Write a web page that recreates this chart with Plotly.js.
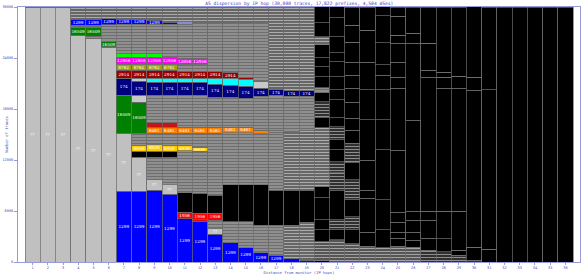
<!DOCTYPE html>
<html><head><meta charset="utf-8">
<script src="https://cdn.plot.ly/plotly-3.0.1.min.js"></script>
<style>html,body{margin:0;padding:0;background:#fff;}#chart{width:581px;height:275px;}</style>
</head><body><div id="chart"></div>
<script>
// ---- categories / ticks ----
const hops = [1,2,3,4,5,6,7,8,9,10,11,12,13,14,15,16,17,18,19,20,21,22,23,24,25,26,27,28,29,30,31,32,33,34,35,36];
const hopLabels = ['1','2','3','4','5','6','7','8','9','10','11','12','13','14','15','16','17','18','19','20','21','22','23','24','25','26','27','28','29','30','31','32','33','34','35','36'];
const yTickVals = [0,6000,12000,18000,24000,30000];
const yTickText = ['0','6000','12000','18000','24000','30000'];

// ---- series (traces per hop), stacked bottom -> top ----
const as1299Low = [0,0,0,0,0,0,8350,8350,8470,8000,5060,4710,3290,2240,1650,1060,820,470,235,120,0,0,0,0,0,0,0,0,0,0,0,0,0,0,0,0];
const unknownAS = [30000,30000,30000,26700,26350,25180,6820,4000,1180,1060,0,0,700,0,0,0,0,0,0,0,0,0,0,0,0,0,0,0,0,0,0,0,0,0,0,0];
const otherLow  = [0,0,0,0,0,0,0,0,2700,3290,0,235,940,2470,3060,3290,3530,3880,4470,2240,2590,2120,1880,1650,1880,1760,1410,1180,820,235,0,0,0,0,0,0];
const as1956    = [0,0,0,0,0,0,0,0,0,0,820,820,820,0,0,0,0,0,0,0,0,0,0,0,0,0,0,0,0,0,0,0,0,0,0,0];
const blackLow  = [0,0,0,0,0,0,0,700,700,700,2240,2350,2120,4350,4350,4710,4120,4120,3760,1410,1180,1650,1650,2120,940,820,1410,1530,590,1530,1530,0,0,0,0,0];
const otherMid1 = [0,0,0,0,0,0,0,0,0,0,4940,4940,7290,6120,6120,6000,6820,6820,7060,1180,1180,1530,4000,3530,700,940,2120,0,0,0,0,0,0,0,0,0];
const as6939    = [0,0,0,0,0,0,0,700,820,700,700,470,0,0,0,0,0,0,0,2590,3410,2000,940,0,1180,1410,1060,3290,4590,0,0,0,0,0,0,0];
const otherMid2 = [0,0,0,0,235,120,0,1410,1290,1410,1410,1650,0,0,0,0,0,0,0,1290,2120,2350,3530,5880,1180,1060,0,0,0,0,0,0,0,0,0,0];
const as6461    = [0,0,0,0,0,0,0,0,700,700,700,700,700,700,700,470,235,0,0,2820,1290,2000,4710,3530,7290,10710,15760,14470,14470,18470,18710,0,0,0,0,0];
const asRed     = [0,0,0,0,0,0,0,0,590,590,0,0,0,0,0,0,0,0,0,4120,1410,2350,3530,3530,7290,9060,820,1290,1410,1530,0,0,0,0,0,0];
const as16509   = [0,0,0,940,1060,590,4470,3650,0,0,0,0,0,0,0,0,0,0,0,1180,1180,1530,3290,1760,1290,1180,0,0,0,0,0,0,0,0,0,0];
const otherMid3 = [0,0,0,0,0,0,0,820,3180,3180,3760,3760,3530,3530,3410,4000,4120,4240,4000,1880,1530,1410,3760,1180,1760,0,3180,590,0,0,0,0,0,0,0,0];
const as174     = [0,0,0,0,0,0,2000,1650,1530,1530,1530,1530,1530,1410,1410,940,700,700,700,1060,1060,1880,0,2590,2240,0,0,0,0,0,0,0,0,0,0,0];
const asCyan    = [0,0,0,0,0,0,0,350,470,470,470,470,700,820,820,820,0,0,0,590,2120,1650,0,0,940,0,0,0,0,0,0,0,0,0,0,0];
const as2914    = [0,0,0,0,0,0,940,940,940,940,820,820,820,700,235,0,0,0,0,1290,1180,1530,0,0,0,0,0,0,0,0,0,0,0,0,0,0];
const as6762    = [0,0,0,0,0,0,700,700,700,700,820,820,0,0,0,0,0,0,0,1180,1530,1530,0,0,0,0,0,0,0,0,0,0,0,0,0,0];
const as12956   = [0,0,0,0,0,0,820,820,820,820,700,700,0,0,0,0,0,0,0,1060,1760,2350,0,0,0,0,0,0,0,0,0,0,0,0,0,0];
const asLime    = [0,0,0,0,0,0,470,470,470,0,0,0,0,0,0,0,0,0,0,1530,1060,0,0,0,0,0,0,0,0,0,0,0,0,0,0,0];
const otherUp   = [0,0,0,235,235,2000,3410,3410,3410,3880,4000,4240,5760,5880,6470,6940,7880,8000,8000,940,1880,2000,0,3180,2240,0,0,0,0,0,0,0,0,0,0,0];
const as1299Top = [0,0,0,700,700,700,590,590,470,235,350,0,0,0,0,0,0,0,0,1650,2240,0,0,0,0,0,0,0,0,0,0,0,0,0,0,0];
const otherTop  = [0,0,0,1420,1410,1410,1410,1410,1530,1760,1650,1760,1760,1760,1760,1760,1760,1760,1760,1880,1290,2120,2710,1060,1060,3060,4240,7650,8120,8240,9760,30000,30000,30000,30000,30000];

// ---- styling ----
const STYLES = {
  gray:  {bg:'#8f8f8f', fg:'#4a4a4a', shape:'-'},
  dark:  {bg:'#666666', fg:'#1e1e1e', shape:'-'},
  dim:   {bg:'#555555', fg:'#141414', shape:'-'},
  faint: {bg:'#303030', fg:'#000000', shape:'-'},
  light: {bg:'#c8c8c8', fg:'#c8c8c8', shape:''},
  black: {bg:'#000000', fg:'#000000', shape:''},
  red:   {bg:'#d01010', fg:'#d01010', shape:''},
  slate: {bg:'#8a8ad0', fg:'#8a8ad0', shape:''}
};
const DARK_ZONE = 20;
const layers = [
  {name:'1299', v:as1299Low, color:'#0000ff', lab:[7,17]},
  {name:'??', v:unknownAS, color:'#c0c0c0', lab:[1,10], extraLab:[13]},
  {name:'low', v:otherLow, filler:'gray', darkFill:'dim', over:{12:'red', 18:'dark', 19:'dark', 27:'faint', 28:'faint', 29:'faint', 30:'faint'}},
  {name:'1956', v:as1956, color:'#ff0000', lab:[11,13]},
  {name:'blk', v:blackLow, filler:'black', darkFill:'black'},
  {name:'mid1', v:otherMid1, filler:'gray', darkFill:'black', over:{18:'dark',19:'dark',21:'faint',22:'faint'}},
  {name:'6939', v:as6939, color:'#ffcc00', lab:[8,12]},
  {name:'mid2', v:otherMid2, filler:'gray', darkFill:'black', over:{21:'faint',22:'faint'}},
  {name:'6461', v:as6461, color:'#ff8000', lab:[9,15], over:{20:'dark',21:'faint'}},
  {name:'red', v:asRed, color:'#c81414', lab:null, over:{20:'dark',22:'faint'}},
  {name:'16509', v:as16509, color:'#008000', lab:[4,8]},
  {name:'mid3', v:otherMid3, filler:'gray', darkFill:'black', over:{8:'light',20:'faint',21:'faint'}},
  {name:'174', v:as174, color:'#000080', lab:[7,19]},
  {name:'cyan', v:asCyan, color:'#00ffff', lab:null, over:{8:'light',16:'light',20:'gray'}},
  {name:'2914', v:as2914, color:'#990000', lab:[7,14]},
  {name:'6762', v:as6762, color:'#a0a000', lab:[7,10], over:{11:'gray',12:'gray'}},
  {name:'12956', v:as12956, color:'#ff00ff', lab:[7,12]},
  {name:'lime', v:asLime, color:'#00ff00', lab:null},
  {name:'up', v:otherUp, filler:'gray', darkFill:'black', over:{17:'dark',18:'dark',19:'dark',20:'dark'}},
  {name:'1299t', v:as1299Top, color:'#0000ff', lab:[4,9], text:'1299', over:{11:'slate'}},
  {name:'top', v:otherTop, filler:'dark', darkFill:'black'}
];

const traces = layers.map(L => {
  const bg = [], fg = [], shape = [], text = [];
  hops.forEach((h, i) => {
    let key = null;
    if (L.over && L.over[h]) key = L.over[h];
    else if (L.filler) key = h >= DARK_ZONE ? L.darkFill : L.filler;
    else if (h >= DARK_ZONE) key = 'black';
    if (key) { const s = STYLES[key]; bg.push(s.bg); fg.push(s.fg); shape.push(s.shape); }
    else { bg.push(L.color); fg.push(L.color); shape.push(''); }
    let t = '';
    if (!key && L.lab && L.v[i] > 0 && h >= L.lab[0] && h <= L.lab[1]) t = L.text || L.name;
    if (L.extraLab && L.extraLab.includes(h) && L.v[i] > 0) t = L.name;
    text.push(t);
  });
  return {
    type:'bar', x:hops, y:L.v, name:L.name, text:text,
    textposition:'inside', insidetextanchor:'middle', textangle:0, constraintext:'none',
    insidetextfont:{family:'DejaVu Serif', size:4.2, color:'#ffffff'},
    marker:{color:bg, line:{color:'#6c6c6c', width:0.7},
      pattern:{shape:shape, fgcolor:fg, size:3, solidity:0.3, fillmode:'overlay'}},
    hoverinfo:'skip', showlegend:false
  };
});

const axisColor = '#9a9ad8';
const labColor = '#4a4ab8';
const layout = {
  width:581, height:275,
  margin:{l:18, r:1, t:7, b:13, pad:0},
  paper_bgcolor:'#ffffff', plot_bgcolor:'#ffffff',
  barmode:'stack', bargap:0,
  title:{text:'AS dispersion by IP hop (30,000 traces, 17,822 prefixes, 4,504 ASes)',
    font:{family:'DejaVu Sans Mono', size:4.6, color:'#4040c8'},
    x:0.515, xanchor:'center', y:0.988, yanchor:'middle', yref:'container'},
  xaxis:{range:[0.04,36.96], tickvals:hops, ticktext:hopLabels, ticks:'outside', ticklen:2,
    tickcolor:axisColor, tickfont:{family:'DejaVu Sans Mono', size:3.6, color:labColor},
    showline:true, linecolor:axisColor, linewidth:1, mirror:true, showgrid:false, zeroline:false,
    automargin:false, fixedrange:true,
    title:{text:'Distance from monitor (IP hops)', font:{family:'DejaVu Sans Mono', size:3.8, color:labColor}, standoff:2}},
  yaxis:{range:[0,30000], tickvals:yTickVals, ticktext:yTickText, ticks:'outside', ticklen:3,
    tickcolor:axisColor, tickfont:{family:'DejaVu Sans Mono', size:3.6, color:labColor},
    showline:true, linecolor:axisColor, linewidth:1, mirror:true, showgrid:false, zeroline:false,
    automargin:false, fixedrange:true},
  annotations:[{text:'Number of traces', xref:'paper', yref:'paper', x:-0.021, y:0.5, xanchor:'center', yanchor:'middle',
    textangle:-90, showarrow:false, font:{family:'DejaVu Sans Mono', size:3.8, color:labColor}}]
};
Plotly.newPlot('chart', traces, layout, {staticPlot:true, displayModeBar:false});
</script>
</body></html>
